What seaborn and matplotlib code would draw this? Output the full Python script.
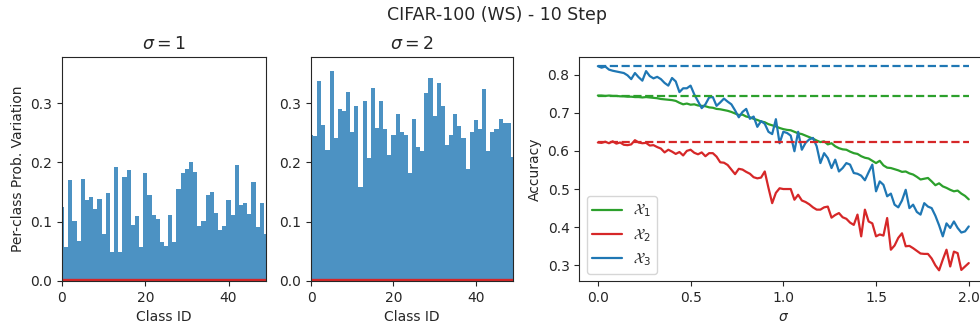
import numpy as np
import pandas as pd
import matplotlib
matplotlib.use("Agg")
import matplotlib.pyplot as plt
import seaborn as sns

sns.set_style("ticks")
plt.rcParams['font.family'] = ['DejaVu Sans']

# ---------------- data ----------------
class_ids = list(range(50))

var_sigma1 = [0.125, 0.057, 0.170, 0.101, 0.067, 0.172, 0.137, 0.142, 0.121, 0.138,
              0.079, 0.148, 0.049, 0.192, 0.049, 0.175, 0.187, 0.094, 0.110, 0.057,
              0.182, 0.145, 0.111, 0.104, 0.066, 0.059, 0.111, 0.066, 0.156, 0.182,
              0.189, 0.201, 0.184, 0.093, 0.101, 0.145, 0.150, 0.115, 0.086, 0.093,
              0.137, 0.111, 0.196, 0.128, 0.131, 0.113, 0.167, 0.091, 0.131, 0.079]

var_sigma2 = [0.246, 0.245, 0.337, 0.264, 0.221, 0.354, 0.241, 0.291, 0.287, 0.319,
              0.252, 0.296, 0.159, 0.304, 0.208, 0.325, 0.259, 0.304, 0.257, 0.213,
              0.246, 0.281, 0.252, 0.246, 0.183, 0.274, 0.226, 0.219, 0.317, 0.342,
              0.279, 0.334, 0.296, 0.229, 0.246, 0.282, 0.262, 0.242, 0.189, 0.251,
              0.271, 0.257, 0.324, 0.219, 0.252, 0.257, 0.274, 0.267, 0.266, 0.209]

var_x2 = [0.002, 0.002, 0.002, 0.002, 0.002, 0.002, 0.002, 0.002, 0.002, 0.002,
          0.002, 0.002, 0.002, 0.002, 0.002, 0.002, 0.002, 0.002, 0.002, 0.002,
          0.002, 0.002, 0.002, 0.002, 0.002, 0.002, 0.002, 0.002, 0.002, 0.002,
          0.002, 0.002, 0.002, 0.002, 0.002, 0.002, 0.002, 0.002, 0.002, 0.002,
          0.002, 0.002, 0.002, 0.002, 0.002, 0.002, 0.002, 0.002, 0.002, 0.002]

sigmas = [round(0.02 * i, 2) for i in range(101)]

acc_x1 = [0.745, 0.745, 0.744, 0.745, 0.744, 0.744, 0.743, 0.743, 0.742, 0.742,
          0.741, 0.741, 0.740, 0.741, 0.740, 0.739, 0.738, 0.736, 0.735, 0.734,
          0.733, 0.731, 0.726, 0.722, 0.724, 0.721, 0.722, 0.719, 0.718, 0.717,
          0.714, 0.713, 0.710, 0.709, 0.707, 0.705, 0.702, 0.698, 0.694, 0.695,
          0.690, 0.688, 0.684, 0.681, 0.677, 0.675, 0.670, 0.667, 0.664, 0.660,
          0.657, 0.655, 0.654, 0.650, 0.646, 0.644, 0.640, 0.636, 0.632, 0.627,
          0.623, 0.625, 0.617, 0.620, 0.612, 0.607, 0.604, 0.603, 0.598, 0.594,
          0.592, 0.586, 0.582, 0.580, 0.574, 0.568, 0.574, 0.562, 0.556, 0.555,
          0.552, 0.549, 0.545, 0.546, 0.541, 0.538, 0.532, 0.525, 0.527, 0.529,
          0.520, 0.510, 0.515, 0.507, 0.503, 0.498, 0.494, 0.496, 0.488, 0.482,
          0.473]

acc_x2 = [0.622, 0.621, 0.624, 0.620, 0.625, 0.619, 0.622, 0.616, 0.615, 0.617,
          0.628, 0.622, 0.620, 0.621, 0.614, 0.615, 0.610, 0.606, 0.596, 0.603,
          0.598, 0.592, 0.597, 0.588, 0.600, 0.603, 0.595, 0.591, 0.596, 0.586,
          0.594, 0.594, 0.585, 0.570, 0.569, 0.563, 0.551, 0.539, 0.553, 0.551,
          0.545, 0.540, 0.531, 0.528, 0.530, 0.546, 0.503, 0.463, 0.490, 0.502,
          0.500, 0.500, 0.500, 0.472, 0.485, 0.470, 0.466, 0.460, 0.452, 0.446,
          0.446, 0.452, 0.454, 0.425, 0.432, 0.437, 0.426, 0.422, 0.412, 0.406,
          0.433, 0.376, 0.446, 0.415, 0.410, 0.376, 0.381, 0.378, 0.424, 0.341,
          0.352, 0.372, 0.384, 0.350, 0.351, 0.345, 0.338, 0.331, 0.330, 0.330,
          0.318, 0.300, 0.287, 0.315, 0.341, 0.297, 0.336, 0.332, 0.288, 0.297,
          0.306]

acc_x3 = [0.822, 0.818, 0.821, 0.813, 0.810, 0.808, 0.806, 0.804, 0.798, 0.788,
          0.804, 0.793, 0.784, 0.809, 0.796, 0.790, 0.794, 0.788, 0.778, 0.771,
          0.791, 0.782, 0.754, 0.764, 0.764, 0.771, 0.748, 0.730, 0.712, 0.722,
          0.740, 0.741, 0.718, 0.727, 0.737, 0.729, 0.722, 0.706, 0.688, 0.702,
          0.710, 0.684, 0.690, 0.663, 0.678, 0.671, 0.650, 0.644, 0.683, 0.620,
          0.650, 0.647, 0.640, 0.599, 0.650, 0.603, 0.621, 0.630, 0.634, 0.612,
          0.568, 0.594, 0.581, 0.555, 0.577, 0.546, 0.555, 0.568, 0.564, 0.542,
          0.540, 0.535, 0.523, 0.544, 0.564, 0.494, 0.520, 0.511, 0.481, 0.488,
          0.459, 0.452, 0.470, 0.498, 0.450, 0.459, 0.440, 0.433, 0.463, 0.454,
          0.450, 0.430, 0.405, 0.376, 0.410, 0.398, 0.415, 0.398, 0.386, 0.389,
          0.402]

series_names = [r'$\mathcal{X}_1$', r'$\mathcal{X}_2$', r'$\mathcal{X}_3$']
baseline_acc = [0.745, 0.622, 0.822]
baseline_x = [0.0, 2.0]

c_blue = '#1f77b4'
c_green = '#2ca02c'
c_red = '#d62728'
series_colors = [c_green, c_red, c_blue]

# ---------------- figure ----------------
fig = plt.figure(figsize=(9.8, 3.27), dpi=100)
ax1 = fig.add_axes([62 / 980, 46 / 327, 204 / 980, 224 / 327])
ax2 = fig.add_axes([311 / 980, 46 / 327, 202 / 980, 224 / 327])
ax3 = fig.add_axes([579.3 / 980, 46 / 327, 408 / 980, 224 / 327])

bar_df1 = pd.DataFrame({'cls': class_ids, 'v': var_sigma1})
bar_df2 = pd.DataFrame({'cls': class_ids, 'v': var_sigma2})
red_df = pd.DataFrame({'cls': class_ids, 'v': var_x2})

for ax, df, title in [(ax1, bar_df1, r'$\sigma = 1$'), (ax2, bar_df2, r'$\sigma = 2$')]:
    sns.barplot(data=df, x='cls', y='v', native_scale=True, width=1.0,
                color=c_blue, alpha=0.8, saturation=1, linewidth=0, ax=ax)
    sns.lineplot(data=red_df, x='cls', y='v', color=c_red, lw=2.4, ax=ax)
    ax.set_xlim(0, 49)
    ax.set_ylim(0, 0.378)
    ax.set_xticks([0, 20, 40])
    ax.set_xticklabels(['0', '20', '40'])
    ax.set_yticks([0.0, 0.1, 0.2, 0.3])
    ax.set_yticklabels(['0.0', '0.1', '0.2', '0.3'])
    ax.set_xlabel('Class ID', fontsize=10)
    ax.set_ylabel('')
    ax.set_title(title, fontsize=12.5, pad=6)
    ax.tick_params(labelsize=10)
ax1.set_ylabel('Per-class Prob. Variation', fontsize=10)

acc_lists = [acc_x1, acc_x2, acc_x3]
for name, col, acc in zip(series_names, series_colors, acc_lists):
    sns.lineplot(x=sigmas, y=acc, color=col, lw=1.6, label=name, ax=ax3)
for col, base in zip(series_colors, baseline_acc):
    sns.lineplot(x=baseline_x, y=[base, base], color=col, lw=1.6,
                 linestyle='--', ax=ax3, legend=False)
ax3.set_xlim(-0.1, 2.1)
ax3.set_ylim(0.259, 0.846)
ax3.set_xticks([0.0, 0.5, 1.0, 1.5, 2.0])
ax3.set_xticklabels(['0.0', '0.5', '1.0', '1.5', '2.0'])
ax3.set_yticks([0.3, 0.4, 0.5, 0.6, 0.7, 0.8])
ax3.set_yticklabels(['0.3', '0.4', '0.5', '0.6', '0.7', '0.8'])
ax3.set_xlabel(r'$\sigma$', fontsize=10)
ax3.set_ylabel('Accuracy', fontsize=10)
ax3.tick_params(labelsize=10)
handles, labels = ax3.get_legend_handles_labels()
ax3.legend(handles[:3], labels[:3], loc='lower left', fontsize=10.5,
           framealpha=0.8, labelspacing=0.45)

fig.text(0.507, 0.955, 'CIFAR-100 (WS) - 10 Step', ha='center', va='center', fontsize=12.5)

fig.savefig('out.png', dpi=100)
